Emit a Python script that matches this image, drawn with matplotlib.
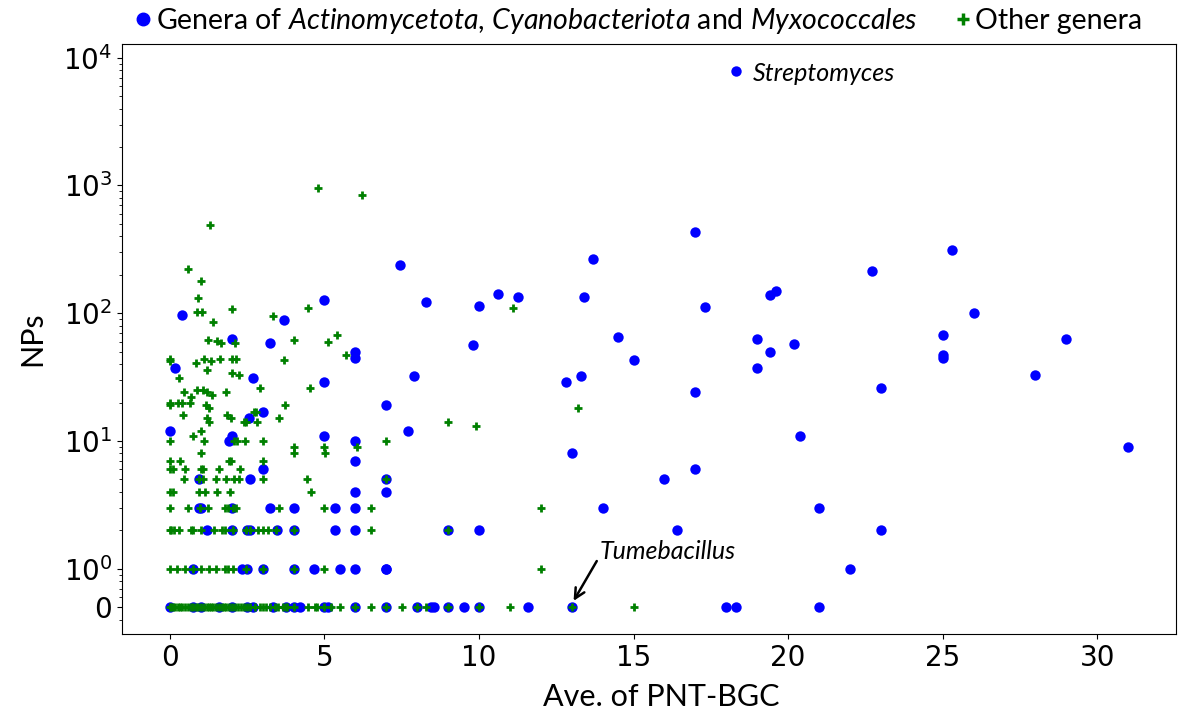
import numpy as np
import matplotlib
matplotlib.use('Agg')
import matplotlib.pyplot as plt
from matplotlib.lines import Line2D

plt.rcParams['font.family'] = ['DejaVu Sans']
plt.rcParams['mathtext.fontset'] = 'custom'
plt.rcParams['mathtext.it'] = 'Lato:italic'
plt.rcParams['mathtext.rm'] = 'Lato'

# genera of Actinomycetota, Cyanobacteriota and Myxococcales (blue)
act_x = [18.3, 17.0, 25.3, 22.7, 13.7, 7.45, 8.3, 10.0, 10.6, 11.27, 13.4, 17.3, 19.4, 19.6, 26.0,
         9.8, 14.5, 15.0, 19.0, 19.4, 19.0, 20.2, 25.0, 25.0, 25.0, 29.0, 28.0, 31.0, 23.0, 20.4,
         21.0, 23.0, 22.0, 21.0, 7.9, 12.8, 13.3, 17.0, 7.0, 7.7, 13.0, 17.0, 16.0, 7.0, 7.0,
         14.0, 9.0, 10.0, 16.4, 7.0,
         7.0, 8.0, 8.45, 8.55, 9.0, 9.5, 10.0, 11.6, 13.0, 18.0, 18.33,
         0.38, 5.0, 3.7, 2.0, 3.25, 6.0, 6.0, 0.18, 2.7, 5.0, 3.0, 2.55, 0.0, 2.0, 1.9, 5.0, 6.0,
         6.0, 3.0, 0.95, 2.6, 6.0,
         0.95, 1.0, 2.0, 3.25, 4.0, 5.35, 6.0,
         1.2, 2.0, 2.5, 2.6, 3.45, 4.0, 5.35, 6.0,
         0.75, 2.33, 2.5, 3.0, 4.0, 4.66, 5.5, 6.0, 7.0,
         0.0, 0.75, 1.0, 1.6, 2.0, 2.5, 2.7, 3.35, 3.75, 4.0, 4.2, 5.0, 5.1, 6.0]
act_np = [7900, 430, 310, 215, 265, 240, 123, 113, 141, 134, 135, 112, 138, 150, 100,
          56, 65, 43, 63, 50, 37, 57, 68, 45, 47, 63, 33, 9, 26, 11,
          3, 2, 1, 0, 32, 29, 32, 24, 19, 12, 8, 6, 5, 5, 4,
          3, 2, 2, 2, 1,
          0, 0, 0, 0, 0, 0, 0, 0, 0, 0, 0,
          97, 127, 88, 63, 58, 50, 45, 37, 31, 29, 17, 15, 12, 11, 10, 11, 10,
          7, 6, 5, 5, 4,
          3, 3, 3, 3, 3, 3, 3,
          2, 2, 2, 2, 2, 2, 2, 2,
          1, 1, 1, 1, 1, 1, 1, 1, 1,
          0, 0, 0, 0, 0, 0, 0, 0, 0, 0, 0, 0, 0, 0]

# other genera (green)
oth_x = [4.8, 6.2, 1.29, 0.57, 1.02, 0.92, 0.88, 1.04, 2.02, 1.38, 3.35, 4.48, 11.1,
         1.24, 1.53, 1.64, 2.1, 4.0, 5.12, 5.4, 5.7, 0.0, 0.0, 0.83, 1.09, 1.19, 1.33, 1.63,
         2.0, 2.14, 3.68, 0.28, 2.01, 2.24, 2.9, 4.52, 0.45, 0.88, 1.07, 1.2, 1.36, 1.83,
         0.0, 0.0, 0.26, 0.38, 0.65, 0.69, 0.43, 1.18, 1.25, 1.2, 1.25, 1.86, 1.97, 2.39, 2.45,
         2.73, 2.8, 2.82, 3.73, 3.53, 13.2, 9.0, 9.9, 7.0, 0.0, 0.76, 1.0, 1.1, 2.07, 2.18,
         2.42, 3.02, 4.0, 4.0, 5.0, 5.03, 6.05, 1.0, 0.0, 0.34, 1.9, 1.97, 3.0,
         0.0, 0.1, 0.5, 1.0, 1.07, 1.6, 2.26,
         0.45, 0.95, 1.07, 1.5, 1.83, 2.08, 2.24, 3.0, 4.45, 7.0,
         0.0, 0.1, 0.95, 1.12, 1.53, 1.95, 4.58,
         0.0, 0.58, 0.97, 1.22, 1.77, 1.88, 2.04, 2.15, 3.53, 5.0, 6.52, 12.0,
         0.0, 0.05, 0.13, 0.3, 0.67, 0.75, 1.02, 1.44, 1.7, 1.77, 2.04, 2.47, 2.58, 2.86, 3.0,
         3.17, 3.44, 4.0, 6.52, 9.0,
         0.0, 0.24, 0.5, 0.75, 1.02, 1.27, 1.5, 1.77, 1.88, 2.04, 2.47, 3.02, 4.0, 5.0, 12.0,
         0.0, 0.05, 0.1, 0.17, 0.25, 0.33, 0.4, 0.5, 0.58, 0.67, 0.75, 0.83, 0.9, 1.0, 1.1,
         1.2, 1.25, 1.33, 1.4, 1.5, 1.6, 1.67, 1.75, 1.83, 1.9, 2.0, 2.1, 2.2, 2.3, 2.4, 2.5,
         2.6, 2.75, 2.9, 3.0, 3.1, 3.25, 3.4, 3.5, 3.67, 3.75, 3.8, 4.0, 4.48, 4.68, 4.75,
         5.0, 5.2, 5.5, 6.0, 6.5, 7.0, 7.5, 8.0, 8.3, 9.0, 10.0, 11.0, 13.0, 15.0]
oth_np = [950, 850, 490, 220, 178, 132, 103, 103, 108, 85, 95, 110, 109,
          62, 61, 58, 58, 62, 60, 67, 47, 44, 42, 41, 44, 36, 42, 44,
          44, 44, 43, 31, 34, 33, 26, 26, 24, 25, 25, 24, 23, 24,
          20, 19, 20, 20, 20, 22, 16, 19, 18, 15, 14, 16, 15, 14, 14,
          17, 17, 14, 19, 15, 18, 14, 13, 10, 10, 11, 12, 10, 10, 10,
          10, 10, 9, 8, 9, 8, 9, 8, 7, 7, 7, 7, 7,
          6, 6, 6, 6, 6, 6, 6,
          5, 5, 5, 5, 5, 5, 5, 5, 5, 5,
          4, 4, 4, 4, 4, 4, 4,
          3, 3, 3, 3, 3, 3, 3, 3, 3, 3, 3, 3,
          2, 2, 2, 2, 2, 2, 2, 2, 2, 2, 2, 2, 2, 2, 2,
          2, 2, 2, 2, 2,
          1, 1, 1, 1, 1, 1, 1, 1, 1, 1, 1, 1, 1, 1, 1,
          0, 0, 0, 0, 0, 0, 0, 0, 0, 0, 0, 0, 0, 0, 0,
          0, 0, 0, 0, 0, 0, 0, 0, 0, 0, 0, 0, 0, 0, 0, 0,
          0, 0, 0, 0, 0, 0, 0, 0, 0, 0, 0, 0, 0, 0, 0,
          0, 0, 0, 0, 0, 0, 0, 0, 0, 0, 0, 0, 0, 0]

ytick_vals = [0, 1, 10, 100, 1000, 10000]
ytick_labels = ['0', r'$\mathdefault{10^{0}}$', r'$\mathdefault{10^{1}}$', r'$\mathdefault{10^{2}}$',
                r'$\mathdefault{10^{3}}$', r'$\mathdefault{10^{4}}$']

ZERO = 0.5  # where zero NPs sit on the log axis


def to_log(v):
    v = np.asarray(v, dtype=float)
    return np.where(v == 0, ZERO, v)


fig = plt.figure(figsize=(11.78, 7.2), dpi=100)
ax = fig.add_axes([122 / 1178, 1 - 634 / 720, (1176 - 122) / 1178, (634 - 44) / 720])

ax.scatter(act_x, to_log(act_np), s=56, c='#0000ff', marker='o', linewidths=0, zorder=2)
ax.scatter(oth_x, to_log(oth_np), s=40, c='green', marker='+', linewidths=2, zorder=3)

ax.set_yscale('log')
ax.set_yticks(to_log(ytick_vals))
ax.set_yticklabels(ytick_labels)
ax.tick_params(axis='both', labelsize=20)

lab_font = dict(family='Lato', size=22)
ax.set_xlabel('Ave. of PNT-BGC', fontdict=lab_font)
ax.set_ylabel('NPs', fontdict=lab_font, labelpad=12)
ax.xaxis.set_label_coords((661 - 122) / 1054, -0.083)

ax.text(18.85, 10 ** 3.88, 'Streptomyces', fontsize=18, family='Lato', style='italic', va='center')
ax.annotate('Tumebacillus', xy=(13.06, 0.56), xytext=(13.9, 1.36),
            fontsize=18, family='Lato', style='italic', va='center', ha='left',
            arrowprops=dict(arrowstyle='->', color='black', lw=1.8, mutation_scale=18,
                            shrinkA=0, shrinkB=0, relpos=(0, 0.3)))

handles = [Line2D([], [], marker='o', color='#0000ff', linestyle='none', markersize=9),
           Line2D([], [], marker='+', color='green', linestyle='none', markersize=8, markeredgewidth=2.5)]
labels = [r'Genera of $\mathit{Actinomycetota}$, $\mathit{Cyanobacteriota}$ and $\mathit{Myxococcales}$',
          'Other genera']
fig.legend(handles, labels, loc='center', bbox_to_anchor=(637 / 1178, 1 - 21 / 720), ncol=2,
           frameon=False, prop=dict(family='Lato', size=20.5), handletextpad=0.05,
           columnspacing=1.2, handlelength=0.8)

fig.savefig('out.png', dpi=100)
